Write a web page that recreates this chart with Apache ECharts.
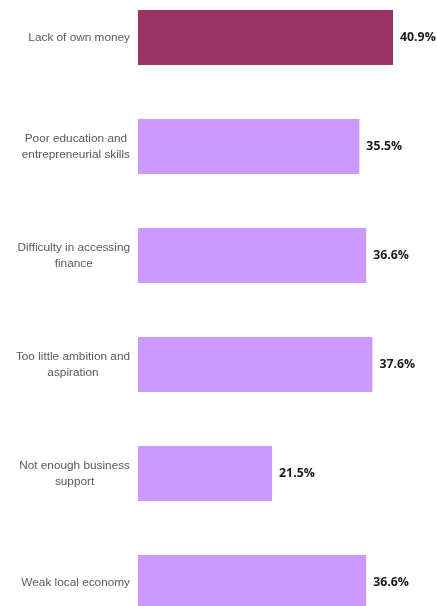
<!DOCTYPE html>
<html>
<head>
<meta charset="utf-8">
<script src="https://cdn.jsdelivr.net/npm/echarts@6/dist/echarts.min.js"></script>
<style>
  html, body { margin: 0; padding: 0; background: #ffffff; }
  #chart { width: 437px; height: 606px; }
</style>
</head>
<body>
<div id="chart"></div>
<script>
// Barriers to starting a business (share of respondents, %)
const categories = [
  'Lack of own money',
  'Poor education and\nentrepreneurial skills',
  'Difficulty in accessing\nfinance',
  'Too little ambition and\naspiration',
  'Not enough business\nsupport',
  'Weak local economy'
];
const values = [40.9, 35.5, 36.6, 37.6, 21.5, 36.6];
const highlightIndex = 0;

const chart = echarts.init(document.getElementById('chart'), null, { renderer: 'canvas' });

chart.setOption({
  animation: false,
  backgroundColor: '#ffffff',
  grid: {
    left: 138,
    width: 280.6,
    top: -17,
    height: 654,
    containLabel: false,
    outerBoundsMode: 'none'
  },
  xAxis: {
    type: 'value',
    min: 0,
    max: 45,
    show: false
  },
  yAxis: {
    type: 'category',
    data: categories,
    inverse: true,
    axisLine: { show: false },
    axisTick: { show: false },
    splitLine: { show: false },
    axisLabel: {
      margin: 8,
      align: 'right',
      formatter: function (v) {
        return v.split('\n').map(function (s) { return '{c|' + s + '}'; }).join('\n');
      },
      rich: {
        c: {
          align: 'center',
          fontFamily: '"Liberation Sans", Arial, sans-serif',
          fontSize: 11.8,
          color: '#595959',
          lineHeight: 16
        }
      }
    }
  },
  series: [{
    type: 'bar',
    barWidth: 55,
    data: values.map(function (v, i) {
      return {
        value: v,
        itemStyle: { color: i === highlightIndex ? '#993366' : '#CC99FF' }
      };
    }),
    label: {
      show: true,
      position: 'right',
      distance: 7,
      formatter: function (p) { return p.value.toFixed(1) + '%'; },
      fontFamily: '"Open Sans", "Liberation Sans", sans-serif',
      fontWeight: 'bold',
      fontSize: 12.3,
      color: '#1a1a1a'
    }
  }]
});
</script>
</body>
</html>
